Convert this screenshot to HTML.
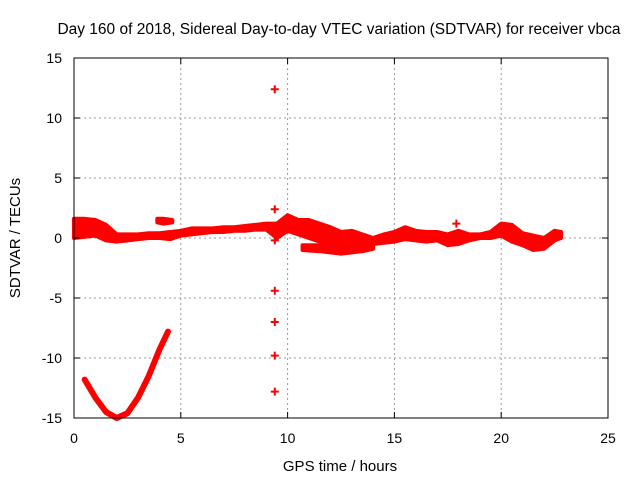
<!DOCTYPE html>
<html><head><meta charset="utf-8"><style>
body{margin:0;background:#fff}
svg{display:block;font-family:"Liberation Sans",sans-serif}
</style></head><body>
<svg id="chart" width="640" height="480" viewBox="0 0 640 480">
<text x="339" y="34" font-size="15.5" text-anchor="middle">Day 160 of 2018, Sidereal Day-to-day VTEC variation (SDTVAR) for receiver vbca</text>
<text x="340" y="471" font-size="15" text-anchor="middle">GPS time / hours</text>
<text transform="translate(20,238) rotate(-90)" font-size="15" text-anchor="middle">SDTVAR / TECUs</text>
<g id="grid"></g>
<g id="marks"></g>
<rect x="74" y="58" width="534" height="360" fill="none" stroke="#000" stroke-width="1"/>
<g id="ticks"></g>
</svg>
<script>
const xTicks=[0,5,10,15,20,25];
const yTicks=[-15,-10,-5,0,5,10,15];
const bandX=[0,0.5,1,1.5,2,2.5,3,3.5,4,4.5,5,5.5,6,6.5,7,7.5,8,8.5,9,9.5,10,10.5,11,11.5,12,12.5,13,13.5,14,14.5,15,15.5,16,16.5,17,17.5,18,18.5,19,19.5,20,20.5,21,21.5,22,22.5,22.8];
const bandUpper=[1.6,1.6,1.5,1.1,0.3,0.3,0.3,0.4,0.4,0.5,0.6,0.8,0.8,0.8,0.9,0.9,1.0,1.1,1.2,1.2,1.9,1.5,1.5,1.2,0.9,0.5,0.6,0.3,0.0,0.3,0.5,0.9,0.6,0.5,0.5,0.3,0.6,0.3,0.3,0.5,1.2,1.1,0.4,0.2,0.0,0.6,0.5];
const bandLower=[0.0,0.1,0.2,-0.2,-0.3,-0.2,-0.1,0.0,0.0,-0.1,0.2,0.3,0.4,0.5,0.5,0.6,0.6,0.7,0.7,0.0,0.6,0.3,0.0,-0.3,-0.5,-0.5,-0.7,-0.8,-0.5,-0.4,-0.3,-0.1,-0.2,-0.3,-0.2,-0.6,-0.5,-0.2,0.0,0.0,0.2,-0.3,-0.6,-1.0,-0.9,-0.2,0.0];
const blobX=[3.9,4.2,4.6];
const blobUpper=[1.6,1.6,1.5];
const blobLower=[1.3,1.2,1.3];
const lowX=[10.7,11.5,12.5,13.5,14];
const lowUpper=[-0.6,-0.6,-0.7,-0.6,-0.5];
const lowLower=[-1.0,-1.1,-1.3,-1.1,-0.9];
const curveX=[0.5,1,1.5,2,2.5,3,3.5,4,4.4];
const curveY=[-11.8,-13.3,-14.5,-15,-14.6,-13.3,-11.5,-9.3,-7.8];
const outX=[9.4,9.4,9.4,9.4,9.4,9.4,9.4,17.9];
const outY=[12.4,2.4,-0.2,-4.4,-7,-9.8,-12.8,1.2];
const NS='http://www.w3.org/2000/svg';
const X=v=>74+v*534/25, Y=v=>238-v*12;
function mk(t,a,p){const e=document.createElementNS(NS,t);for(const k in a)e.setAttribute(k,a[k]);p.appendChild(e);return e;}
const grid=document.getElementById('grid'),ticks=document.getElementById('ticks'),marks=document.getElementById('marks');
xTicks.forEach(t=>{
  if(t>0&&t<25){const g=mk('line',{x1:X(t),x2:X(t),y1:58,y2:418,stroke:'#999','stroke-dasharray':'2,3'},grid);
  
  }
  const tk=mk('path',{d:`M${X(t)},418v-6M${X(t)},58v6`,stroke:'#000'},ticks);
  
  
  const l=mk('text',{x:X(t),y:443,'font-size':14,'text-anchor':'middle'},ticks);l.textContent=t;
  
  
});
yTicks.forEach(t=>{
  if(t>-15&&t<15){const g=mk('line',{x1:74,x2:608,y1:Y(t),y2:Y(t),stroke:'#999','stroke-dasharray':'2,3'},grid);
  
  }
  const tk=mk('path',{d:`M74,${Y(t)}h6M608,${Y(t)}h-6`,stroke:'#000'},ticks);
  
  
  const l=mk('text',{x:62,y:Y(t)+5,'font-size':14,'text-anchor':'end'},ticks);l.textContent=t;
  
  
});
function band(xs,up,lo,name){
  let pts=xs.map((x,i)=>X(x)+','+Y(up[i]));
  for(let i=xs.length-1;i>=0;i--)pts.push(X(xs[i])+','+Y(lo[i]));
  const p=mk('polygon',{points:pts.join(' '),fill:'#f00',stroke:'#f00','stroke-width':4,'stroke-linejoin':'round'},marks);
  
  
}
band(bandX,bandUpper,bandLower,'main-band');
band(blobX,blobUpper,blobLower,'band-segment-4h');
band(lowX,lowUpper,lowLower,'lower-band-segment');
const c=mk('polyline',{points:curveX.map((x,i)=>X(x)+','+Y(curveY[i])).join(' '),fill:'none',stroke:'#f00','stroke-width':6,'stroke-linejoin':'round','stroke-linecap':'round'},marks);


outX.forEach((x,i)=>{
  const m=mk('path',{d:`M${X(x)-4},${Y(outY[i])}h8M${X(x)},${Y(outY[i])-4}v8`,stroke:'#f00','stroke-width':2},marks);
  
  
});
</script>
</body></html>
